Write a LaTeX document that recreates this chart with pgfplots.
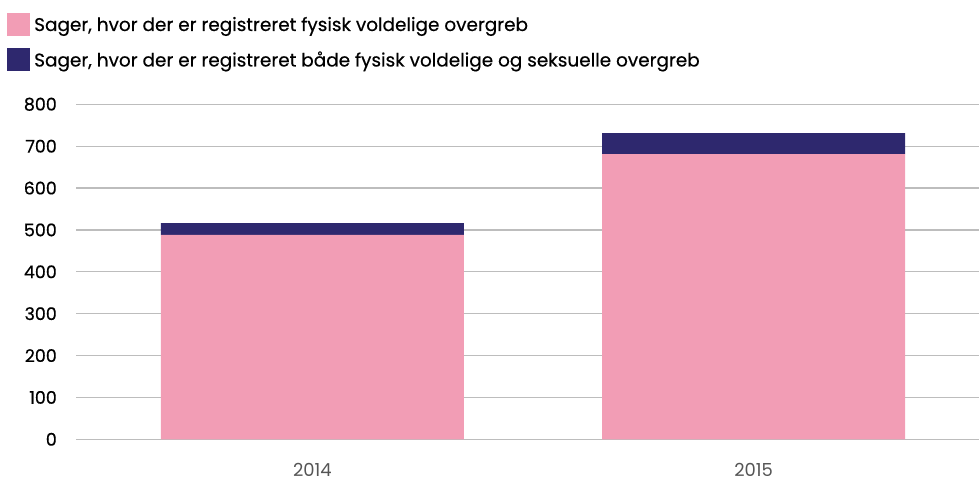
\documentclass[border=0pt]{standalone}
\usepackage{pgfplots}
\pgfplotsset{compat=1.18}
\usepackage{fontspec}
\setmainfont{Poppins}
\newfontfamily\medfont[FakeBold=0.4]{Poppins}
\definecolor{pinkbar}{HTML}{F29DB5}
\definecolor{navybar}{HTML}{2E286E}
\definecolor{gridgray}{HTML}{BDBDBD}
\definecolor{xlab}{HTML}{555555}
\begin{document}
\begin{tikzpicture}
\path[use as bounding box] (0,0) rectangle (979bp,479bp);
\begin{axis}[
  at={(76bp,39.7bp)}, anchor=south west,
  scale only axis, width=903bp, height=335bp,
  ybar stacked, bar width=303bp,
  xmin=-0.536, xmax=1.511, ymin=0, ymax=800,
  xtick={0,1}, xticklabels={2014,2015},
  ytick={0,100,...,800},
  ymajorgrids, grid style={gridgray, line width=1.2bp},
  axis line style={draw=none}, tick style={draw=none},
  /pgf/number format/assume math mode=true,
  yticklabel style={inner sep=0pt, xshift=-19bp, font=\medfont\fontsize{17.5}{20}\selectfont, black},
  xticklabel style={inner sep=0pt, text depth=0pt, yshift=-23.5bp, font=\fontsize{18}{20}\selectfont, text=xlab},
  legend style={at={(-0.0764,1.2725)}, anchor=north west, draw=none, fill=none,
    font=\medfont\fontsize{18.5}{22}\selectfont, row sep=12bp, column sep=2bp, inner sep=0pt,
    nodes={inner ysep=0pt}},
  legend cell align=left,
]
\addplot+[fill=pinkbar, draw=none, legend image code/.code={\fill[pinkbar] (0bp,-11.5bp) rectangle (23bp,11.5bp);}] coordinates {(0,488) (1,681)};
\addplot+[fill=navybar, draw=none, legend image code/.code={\fill[navybar] (0bp,-11.5bp) rectangle (23bp,11.5bp);}] coordinates {(0,28) (1,50)};
\legend{{Sager, hvor der er registreret fysisk voldelige overgreb}, {Sager, hvor der er registreret både fysisk voldelige og seksuelle overgreb}}
\end{axis}
\end{tikzpicture}
\end{document}
